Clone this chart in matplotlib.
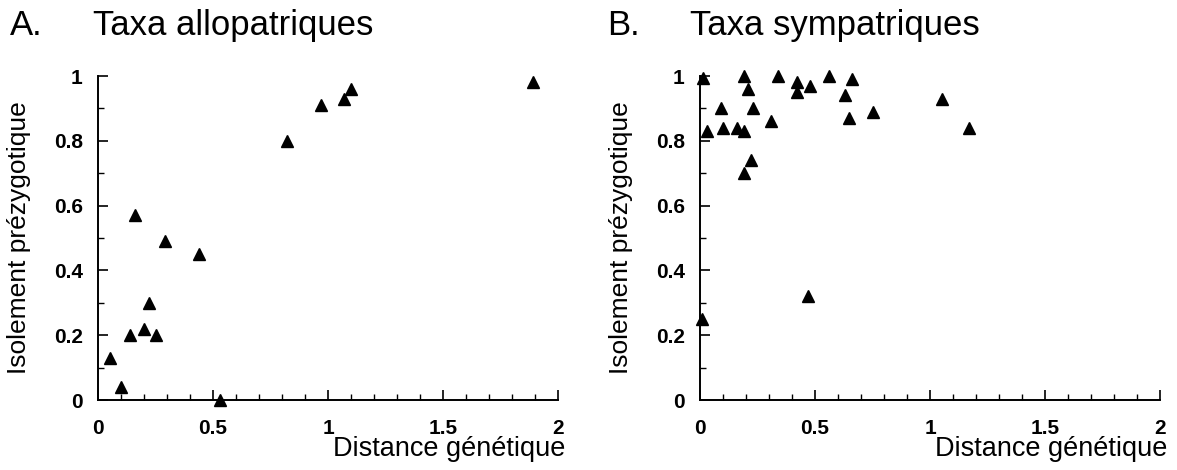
import matplotlib.pyplot as plt
from matplotlib.ticker import MultipleLocator

plt.rcParams['font.family'] = ['Liberation Sans', 'DejaVu Sans']

# Taxa allopatriques
allo_dist = [0.05, 0.10, 0.14, 0.16, 0.20, 0.22, 0.25, 0.29, 0.44, 0.53,
             0.82, 0.97, 1.07, 1.10, 1.89]
allo_iso = [0.13, 0.04, 0.20, 0.57, 0.22, 0.30, 0.20, 0.49, 0.45, 0.00,
            0.80, 0.91, 0.93, 0.96, 0.98]

# Taxa sympatriques
sym_dist = [0.015, 0.03, 0.01, 0.09, 0.10, 0.16, 0.19, 0.19, 0.19, 0.21,
            0.22, 0.23, 0.31, 0.34, 0.42, 0.42, 0.48, 0.47, 0.56, 0.63,
            0.66, 0.65, 0.75, 1.05, 1.17]
sym_iso = [0.995, 0.83, 0.25, 0.90, 0.84, 0.84, 1.00, 0.83, 0.70, 0.96,
           0.74, 0.90, 0.86, 1.00, 0.98, 0.95, 0.97, 0.32, 1.00, 0.94,
           0.99, 0.87, 0.89, 0.93, 0.84]

xticks = [0, 0.5, 1, 1.5, 2]
xlabels = ['0', '0.5', '1', '1.5', '2']
yticks = [0, 0.2, 0.4, 0.6, 0.8, 1]
ylabels = ['0', '0.2', '0.4', '0.6', '0.8', '1']

fig = plt.figure(figsize=(11.77, 4.70), dpi=100)


def draw_panel(left, dist, iso, letter, title, letter_x, title_x):
    ax = fig.add_axes([left / 1177, 70 / 470, 460 / 1177, 324 / 470])
    ax.plot(dist, iso, linestyle='none', marker='^', markersize=9,
            color='black', clip_on=False, zorder=3)
    ax.set_xlim(0, 2)
    ax.set_ylim(0, 1)
    ax.spines['top'].set_visible(False)
    ax.spines['right'].set_visible(False)
    for s in ['left', 'bottom']:
        ax.spines[s].set_linewidth(1.4)
    ax.set_xticks(xticks)
    ax.set_xticklabels(xlabels, fontsize=15, fontweight='bold')
    ax.set_yticks(yticks)
    ax.set_yticklabels(ylabels, fontsize=15, fontweight='bold')
    ax.xaxis.set_minor_locator(MultipleLocator(0.1))
    ax.yaxis.set_minor_locator(MultipleLocator(0.1))
    ax.tick_params(which='major', direction='in', length=7, width=1.2)
    ax.tick_params(which='minor', direction='in', length=4, width=1.0)
    ax.tick_params(axis='y', which='major', pad=11)
    ax.tick_params(axis='x', which='major', pad=14)
    ax.set_xlabel('Distance génétique', fontsize=19.5, loc='right')
    ax.xaxis.set_label_coords(1.017, -0.112)
    ax.set_ylabel('Isolement prézygotique', fontsize=19)
    ax.yaxis.set_label_coords(-0.146, 0.5)
    fig.text(letter_x / 1177, 1 - 35 / 470, letter, fontsize=25)
    fig.text(title_x / 1177, 1 - 35 / 470, title, fontsize=25)
    return ax


draw_panel(98, allo_dist, allo_iso, 'A.', 'Taxa allopatriques', 10, 93)
draw_panel(700, sym_dist, sym_iso, 'B.', 'Taxa sympatriques', 607, 690)

plt.savefig('out.png', dpi=100)
